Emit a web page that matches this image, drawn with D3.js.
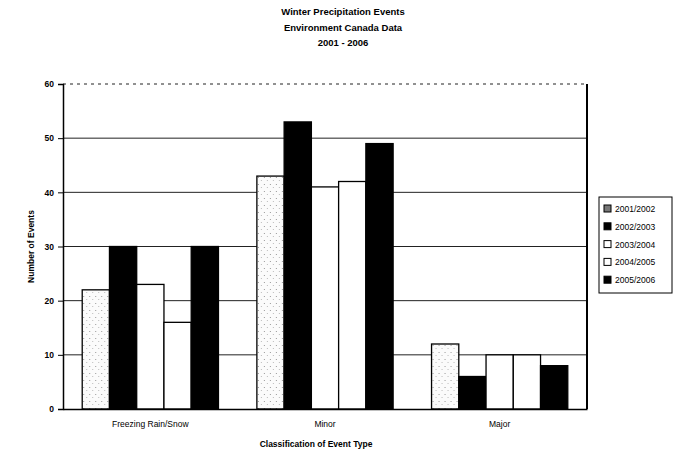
<!DOCTYPE html>
<html>
<head>
<meta charset="utf-8">
<script src="https://cdn.jsdelivr.net/npm/d3@7"></script>
<style>
  body { margin: 0; background: #fff; }
  text { font-family: "Liberation Sans", Arial, sans-serif; fill: #000; }
</style>
</head>
<body>
<div id="chart"></div>
<script>
// chart data
const categories = ["Freezing Rain/Snow", "Minor", "Major"];
const seasons = ["2001/2002", "2002/2003", "2003/2004", "2004/2005", "2005/2006"];
const values = {
  "2001/2002": [22, 43, 12],
  "2002/2003": [30, 53, 6],
  "2003/2004": [23, 41, 10],
  "2004/2005": [16, 42, 10],
  "2005/2006": [30, 49, 8]
};
const yTicks = [0, 10, 20, 30, 40, 50, 60];

const W = 673, H = 470;
const margin = {top: 84, right: 86, bottom: 61, left: 63},
    width = W - margin.left - margin.right,
    height = H - margin.top - margin.bottom;

const fills = {
  "2001/2002": "url(#speckle)",
  "2002/2003": "#000",
  "2003/2004": "#fff",
  "2004/2005": "#fff",
  "2005/2006": "#000"
};

const root = d3.select("#chart").append("svg")
    .attr("width", W)
    .attr("height", H);

// speckled fill for the first season
const pat = root.append("defs").append("pattern")
    .attr("id", "speckle")
    .attr("patternUnits", "userSpaceOnUse")
    .attr("width", 6).attr("height", 7);
pat.append("rect").attr("width", 6).attr("height", 7).attr("fill", "#fbfbfb");
pat.append("rect").attr("x", 1).attr("y", 2).attr("width", 1).attr("height", 1).attr("fill", "#999");
pat.append("rect").attr("x", 4).attr("y", 5).attr("width", 1).attr("height", 1).attr("fill", "#bbb");

// titles
const titleLines = ["Winter Precipitation Events", "Environment Canada Data", "2001 - 2006"];
root.selectAll(".title")
    .data(titleLines)
    .join("text")
    .attr("class", "title")
    .attr("x", 343)
    .attr("y", (d, i) => 15 + i * 15.5)
    .attr("text-anchor", "middle")
    .attr("font-size", 9.5)
    .attr("font-weight", "bold")
    .text(d => d);

const svg = root.append("g")
    .attr("transform", `translate(${margin.left}, ${margin.top})`);

// scales
const x0 = d3.scaleBand()
    .domain(categories)
    .range([0, width])
    .paddingInner(0.22)
    .paddingOuter(0.11);

const x1 = d3.scaleBand()
    .domain(seasons)
    .range([0, x0.bandwidth()]);

const y = d3.scaleLinear()
    .domain([0, 60])
    .range([height, 0]);

// gridlines
svg.append("g")
    .selectAll("line")
    .data(yTicks.filter(d => d > 0))
    .join("line")
    .attr("x1", 0)
    .attr("x2", width)
    .attr("y1", d => y(d))
    .attr("y2", d => y(d))
    .attr("stroke", "#222")
    .attr("stroke-width", 1)
    .attr("stroke-dasharray", d => d === 60 ? "3,4" : null);

// right border of plot area
svg.append("line")
    .attr("x1", width).attr("x2", width)
    .attr("y1", y(60)).attr("y2", height)
    .attr("stroke", "#000")
    .attr("stroke-width", 2);

// bars
const groups = svg.append("g")
    .selectAll("g")
    .data(categories)
    .join("g")
    .attr("transform", d => `translate(${x0(d)}, 0)`);

groups.selectAll("rect")
    .data((c, ci) => seasons.map(s => ({season: s, value: values[s][ci]})))
    .join("rect")
    .attr("x", d => x1(d.season))
    .attr("y", d => y(d.value))
    .attr("width", x1.bandwidth())
    .attr("height", d => height - y(d.value))
    .attr("fill", d => fills[d.season])
    .attr("stroke", "#000")
    .attr("stroke-width", 1.3);

// y axis
const yAxis = svg.append("g")
    .call(d3.axisLeft(y).tickValues(yTicks).tickSize(5).tickPadding(4));
yAxis.select(".domain").attr("stroke-width", 1.5);
yAxis.selectAll("text")
    .attr("font-size", 8.5)
    .attr("font-weight", "bold")
    .attr("font-family", "Liberation Sans, Arial, sans-serif");

// x axis
const xAxis = svg.append("g")
    .attr("transform", `translate(0, ${height})`)
    .call(d3.axisBottom(x0).tickSize(0).tickPadding(12));
xAxis.select(".domain").attr("stroke-width", 1.5);
xAxis.selectAll("text")
    .attr("font-size", 8.5)
    .attr("font-family", "Liberation Sans, Arial, sans-serif");

// axis titles
svg.append("text")
    .attr("x", 253)
    .attr("y", height + 38)
    .attr("text-anchor", "middle")
    .attr("font-size", 8.5)
    .attr("font-weight", "bold")
    .text("Classification of Event Type");

svg.append("text")
    .attr("transform", `translate(-29, ${y(30)}) rotate(-90)`)
    .attr("text-anchor", "middle")
    .attr("font-size", 8.5)
    .attr("font-weight", "bold")
    .text("Number of Events");

// legend
const legend = root.append("g")
    .attr("transform", "translate(599, 197)");

legend.append("rect")
    .attr("width", 73)
    .attr("height", 96)
    .attr("fill", "#fff")
    .attr("stroke", "#000")
    .attr("stroke-width", 1);

const items = legend.selectAll(".item")
    .data(seasons)
    .join("g")
    .attr("class", "item")
    .attr("transform", (d, i) => `translate(5, ${14 + i * 17.8})`);

items.append("rect")
    .attr("x", 0)
    .attr("y", -6)
    .attr("width", 7)
    .attr("height", 7)
    .attr("fill", d => d === "2001/2002" ? "#777" : fills[d])
    .attr("stroke", "#000")
    .attr("stroke-width", 1);

items.append("text")
    .attr("x", 11)
    .attr("y", 1)
    .attr("font-size", 8.5)
    .text(d => d);
</script>
</body>
</html>
